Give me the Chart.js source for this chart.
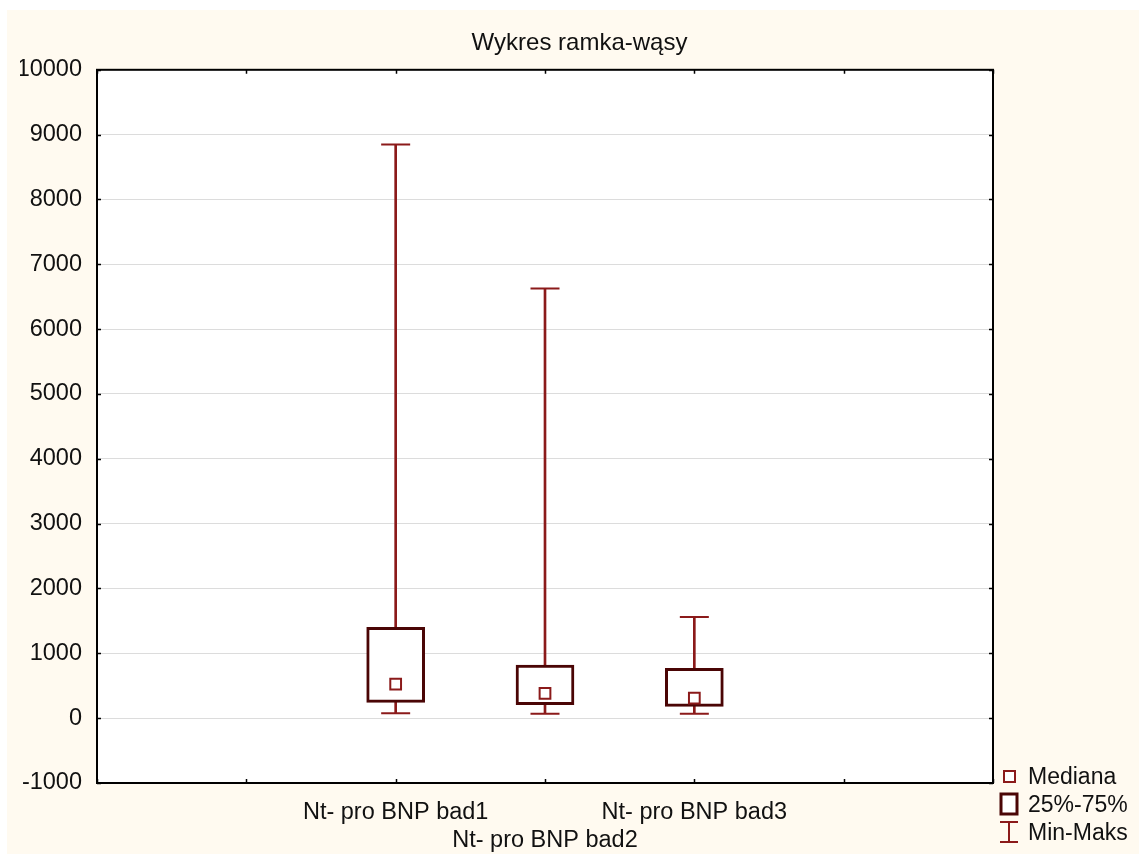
<!DOCTYPE html>
<html>
<head>
<meta charset="utf-8">
<script src="https://cdn.jsdelivr.net/npm/chart.js@4/dist/chart.umd.min.js"></script>
<style>
    body { margin: 0; background: #ffffff; }
    #wrap { position: relative; width: 1139px; height: 854px; }
    #legend { position: absolute; left: 998px; top: 762px; font-family: 'Liberation Sans', Arial, sans-serif; font-size: 23px; color: #111; }
    .item { position: relative; height: 28px; line-height: 28px; padding-left: 30px; white-space: nowrap; }
    .item svg { position: absolute; left: 0; top: 0; }
</style>
</head>
<body>
<div id="wrap">
    <canvas id="boxChart" width="1139" height="854"></canvas>
    <div id="legend">
        <div class="item"><svg width="24" height="28"><rect x="6" y="9" width="11" height="11" fill="#fff" stroke="#8b1a1a" stroke-width="2"/></svg>Mediana</div>
        <div class="item"><svg width="24" height="28"><rect x="3" y="4" width="16" height="20" fill="#fff" stroke="#4a0505" stroke-width="3"/></svg>25%-75%</div>
        <div class="item"><svg width="24" height="28"><path d="M2 4 H20 M11 4 V24 M2 24 H20" stroke="#8b1a1a" stroke-width="2" fill="none"/></svg>Min-Maks</div>
    </div>
</div>
<script>
const categories = ['Nt- pro BNP bad1', 'Nt- pro BNP bad2', 'Nt- pro BNP bad3'];
const mins = [77, 68, 68];
const q1s = [243, 207, 181];
const medians = [525, 382, 309];
const q3s = [1402, 819, 768];
const maxs = [8846, 6626, 1561];
const yTicks = { min: -1000, max: 10000, step: 1000 };

// two empty slots on each side like the original plot
const labels = ['', ''].concat(categories, ['', '']);

const darkRed = '#8b1a1a';
const boxColor = '#4a0505';

// cream page background + black frame with inward ticks
const framePlugin = {
    id: 'frame',
    beforeDraw(chart) {
        const ctx = chart.ctx;
        ctx.save();
        ctx.fillStyle = '#fffaf0';
        ctx.fillRect(7, 10, chart.width - 7, chart.height - 10);
        const a = chart.chartArea;
        ctx.fillStyle = '#ffffff';
        ctx.fillRect(a.left, a.top, a.right - a.left, a.bottom - a.top);
        ctx.restore();
    },
    afterDraw(chart) {
        const ctx = chart.ctx;
        const a = chart.chartArea;
        ctx.save();
        ctx.strokeStyle = '#000';
        ctx.lineWidth = 2;
        ctx.strokeRect(a.left, a.top, a.right - a.left, a.bottom - a.top);
        ctx.lineWidth = 1.5;
        ctx.beginPath();
        chart.scales.x.ticks.forEach((t, i) => {
            const px = Math.round(chart.scales.x.getPixelForTick(i)) + 0.5;
            ctx.moveTo(px, a.top); ctx.lineTo(px, a.top + 4);
            ctx.moveTo(px, a.bottom); ctx.lineTo(px, a.bottom - 4);
        });
        chart.scales.y.ticks.forEach((t, i) => {
            const py = Math.round(chart.scales.y.getPixelForTick(i)) + 0.5;
            ctx.moveTo(a.left, py); ctx.lineTo(a.left + 4, py);
            ctx.moveTo(a.right, py); ctx.lineTo(a.right - 4, py);
        });
        ctx.stroke();
        ctx.restore();
    }
};

const font = { family: "'Liberation Sans', Arial, sans-serif", size: 23.5 };

new Chart(document.getElementById('boxChart'), {
    type: 'bar',
    data: {
        labels: labels,
        datasets: [
            {
                type: 'scatter',
                label: 'Mediana',
                data: categories.map((c, i) => ({ x: c, y: medians[i] })),
                pointStyle: 'rect',
                radius: 7.6,
                backgroundColor: '#fff',
                borderColor: darkRed,
                borderWidth: 2,
                order: 0
            },
            {
                label: '25%-75%',
                data: categories.map((c, i) => ({ x: c, y: [q1s[i], q3s[i]] })),
                backgroundColor: '#fff',
                borderColor: boxColor,
                borderWidth: 3,
                borderSkipped: false,
                barThickness: 58,
                grouped: false,
                order: 1
            },
            {
                label: 'Min-Maks',
                data: categories.map((c, i) => ({ x: c, y: [mins[i], maxs[i]] })),
                backgroundColor: darkRed,
                borderWidth: 0,
                barThickness: 2,
                grouped: false,
                order: 2
            },
            {
                type: 'scatter',
                label: 'caps',
                data: categories.map((c, i) => ({ x: c, y: mins[i] })).concat(categories.map((c, i) => ({ x: c, y: maxs[i] }))),
                pointStyle: 'line',
                radius: 14.5,
                borderColor: darkRed,
                borderWidth: 2,
                order: 3
            }
        ]
    },
    options: {
        responsive: false,
        animation: false,
        layout: { padding: { left: 20, right: 0, top: 0, bottom: 0 } },
        scales: {
            x: {
                type: 'category',
                offset: false,
                grid: { display: false },
                border: { display: false },
                ticks: {
                    autoSkip: false,
                    maxRotation: 0,
                    padding: 7,
                    color: '#111',
                    font: font,
                    callback: function(val, index) {
                        const lab = this.getLabelForValue(val);
                        return index === 3 ? ['', lab] : lab;
                    }
                },
                afterFit(scale) { scale.height = 71; }
            },
            y: {
                min: yTicks.min,
                max: yTicks.max,
                grid: { color: '#dcdcdc', drawTicks: false },
                border: { display: false },
                ticks: {
                    stepSize: yTicks.step,
                    padding: 15,
                    color: '#111',
                    font: font,
                    callback: (v) => String(v)
                },
                afterFit(scale) { scale.width = 77; }
            },
            // empty space on the right for the legend
            side: {
                position: 'right',
                grid: { display: false },
                border: { display: false },
                ticks: { display: false },
                afterFit(scale) { scale.width = 146; }
            }
        },
        plugins: {
            legend: { display: false },
            tooltip: { enabled: false },
            title: {
                display: true,
                text: 'Wykres ramka-wąsy',
                color: '#111',
                font: { family: font.family, size: 24, weight: 'normal' },
                padding: { top: 29, bottom: 12 }
            }
        }
    },
    plugins: [framePlugin]
});
</script>
</body>
</html>
